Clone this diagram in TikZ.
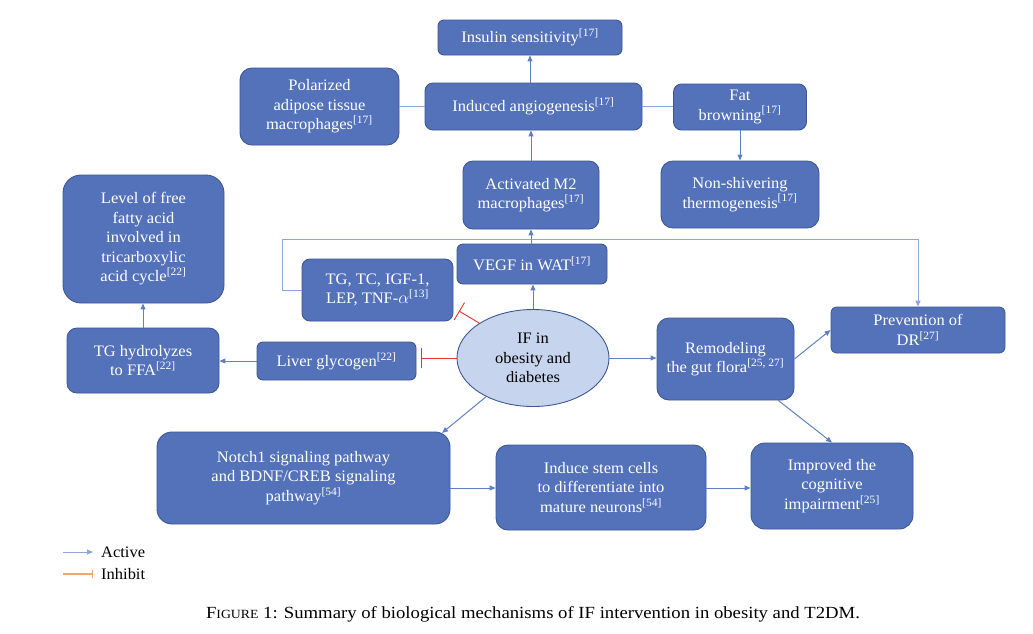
\documentclass[tikz,border=0pt]{standalone}
\usepackage{fontspec}
\setmainfont[FakeStretch=1.03]{Liberation Serif}
\newfontfamily\capfont[FakeStretch=1.1]{Liberation Serif}
\usetikzlibrary{arrows.meta,shapes.geometric}
\definecolor{boxfill}{RGB}{84,114,186}
\definecolor{boxdraw}{RGB}{60,88,148}
\definecolor{ellfill}{RGB}{198,212,238}
\definecolor{ellline}{RGB}{60,88,148}
\definecolor{conn}{RGB}{96,128,198}
\definecolor{connlight}{RGB}{140,166,216}
\definecolor{inhred}{RGB}{232,48,44}
\definecolor{inhorange}{RGB}{244,166,110}
\newcommand\supref[1]{\textsuperscript{[#1]}}
\begin{document}
\begin{tikzpicture}[x=1pt,y=-1pt,
  box/.style={draw=boxdraw, fill=boxfill, line width=0.9pt, text=white, align=center, inner sep=0pt, font=\fontsize{16}{19.5}\selectfont},
  act/.style={draw=conn, line width=1pt, -{Triangle[length=6pt,width=5pt]}},
  lnk/.style={draw=connlight, line width=1.1pt},
  inh/.style={draw=inhred, line width=0.9pt, -{Bar[width=20pt]}},
  lbl/.style={font=\fontsize{16}{19.5}\selectfont, text=black}
]
\useasboundingbox (0,0) rectangle (1033,633);

% boxes
\node[box, minimum width=184pt, minimum height=35pt, rounded corners=6pt] (ins) at (530,37.5) {Insulin sensitivity\supref{17}};
\node[box, minimum width=159pt, minimum height=77pt, rounded corners=12pt] (pol) at (319.5,106.5) {Polarized\\adipose tissue\\macrophages\supref{17}};
\node[box, minimum width=217pt, minimum height=47pt, rounded corners=8pt] (ang) at (533.5,106.5) {Induced angiogenesis\supref{17}};
\node[box, minimum width=133pt, minimum height=46pt, rounded corners=8pt] (fat) at (740,107) {Fat\\browning\supref{17}};
\node[box, minimum width=136pt, minimum height=68pt, rounded corners=10pt] (m2) at (531,195) {Activated M2\\macrophages\supref{17}};
\node[box, minimum width=158pt, minimum height=67pt, rounded corners=12pt] (nst) at (740,194.5) {Non-shivering\\thermogenesis\supref{17}};
\node[box, minimum width=161pt, minimum height=128pt, rounded corners=18pt] (lev) at (143.5,239) {Level of free\\fatty acid\\involved in\\tricarboxylic\\acid cycle\supref{22}};
\node[box, minimum width=150pt, minimum height=40pt, rounded corners=6pt] (vegf) at (532,264) {VEGF in WAT\supref{17}};
\node[box, minimum width=151pt, minimum height=62pt, rounded corners=8pt] (tg) at (377.5,290) {TG, TC, IGF-1,\\LEP, TNF-$\alpha$\supref{13}};
\node[box, minimum width=174pt, minimum height=46pt, rounded corners=6pt] (prev) at (918,330) {Prevention of\\DR\supref{27}};
\node[box, minimum width=152pt, minimum height=65pt, rounded corners=10pt] (tgh) at (143,360.5) {TG hydrolyzes\\to FFA\supref{22}};
\node[box, minimum width=159pt, minimum height=38pt, rounded corners=6pt] (liv) at (336.5,361) {Liver glycogen\supref{22}};
\node[draw=ellline, fill=ellfill, line width=0.9pt, ellipse, minimum width=152pt, minimum height=97pt, inner sep=0pt, align=center, lbl] (if) at (533,358) {IF in\\obesity and\\diabetes};
\node[box, minimum width=137pt, minimum height=82pt, rounded corners=12pt] (rem) at (725.5,359) {Remodeling\\the gut flora\supref{25, 27}};
\node[box, minimum width=293pt, minimum height=92pt, rounded corners=15pt] (notch) at (303.5,478) {Notch1 signaling pathway\\and BDNF/CREB signaling\\pathway\supref{54}};
\node[box, minimum width=210pt, minimum height=85pt, rounded corners=12pt] (stem) at (601,487.5) {Induce stem cells\\to differentiate into\\mature neurons\supref{54}};
\node[box, minimum width=162pt, minimum height=86pt, rounded corners=14pt] (imp) at (832,486) {Improved the\\cognitive\\impairment\supref{25}};

% connectors
\draw[act] (ang.north -| ins.south) -- (ins.south);
\draw[lnk] (pol.east) -- (pol.east -| ang.west);
\draw[lnk] (ang.east) -- (ang.east -| fat.west);
\draw[act] (fat.south) -- (fat.south |- nst.north);
\draw[act] (m2.north) -- (m2.north |- ang.south);
\draw[act] (vegf.north -| m2.south) -- (m2.south);
\draw[act] (if.north) -- (if.north |- vegf.south);
\coordinate (lc) at (282,239);
\draw[act, draw=connlight] (tg.west) -| (lc) -| (prev.north);
\coordinate (tgbar) at (459,311);
\draw[inh] (if.147) -- (tgbar);
\coordinate (livbar) at (421,358);
\draw[inh] (if.west) -- (livbar);
\draw[act] (liv.west) -- (liv.west -| tgh.east);
\draw[act] (tgh.north) -- (tgh.north |- lev.south);
\draw[act] (if.east) -- (if.east -| rem.west);
\draw[act] (rem.east) -- (prev.west);
\draw[act] (rem) -- (imp.north);
\coordinate (ntop) at (442,433);
\draw[act] (if) -- (ntop);
\draw[act] (notch.east |- 0,488) -- (stem.west |- 0,488);
\draw[act] (stem.east |- 0,488) -- (imp.west |- 0,488);

% legend
\coordinate (la1) at (63,552);
\coordinate (la2) at (93,552);
\draw[act, draw=connlight] (la1) -- (la2);
\node[lbl, anchor=west, inner sep=0pt] (lact) at (101,552) {Active};
\coordinate (li1) at (63,574);
\coordinate (li2) at (93,574);
\draw[draw=inhorange, line width=1.1pt, -{Bar[width=8pt]}] (li1) -- (li2);
\node[lbl, anchor=west, inner sep=0pt] (linh) at (101,574) {Inhibit};

% caption
\node[anchor=base, inner sep=0pt, font=\capfont\fontsize{17}{19}\selectfont] (cap) at (533,618) {F{\fontsize{12.5}{13}\selectfont IGURE} 1: Summary of biological mechanisms of IF intervention in obesity and T2DM.};
\end{tikzpicture}
\end{document}
